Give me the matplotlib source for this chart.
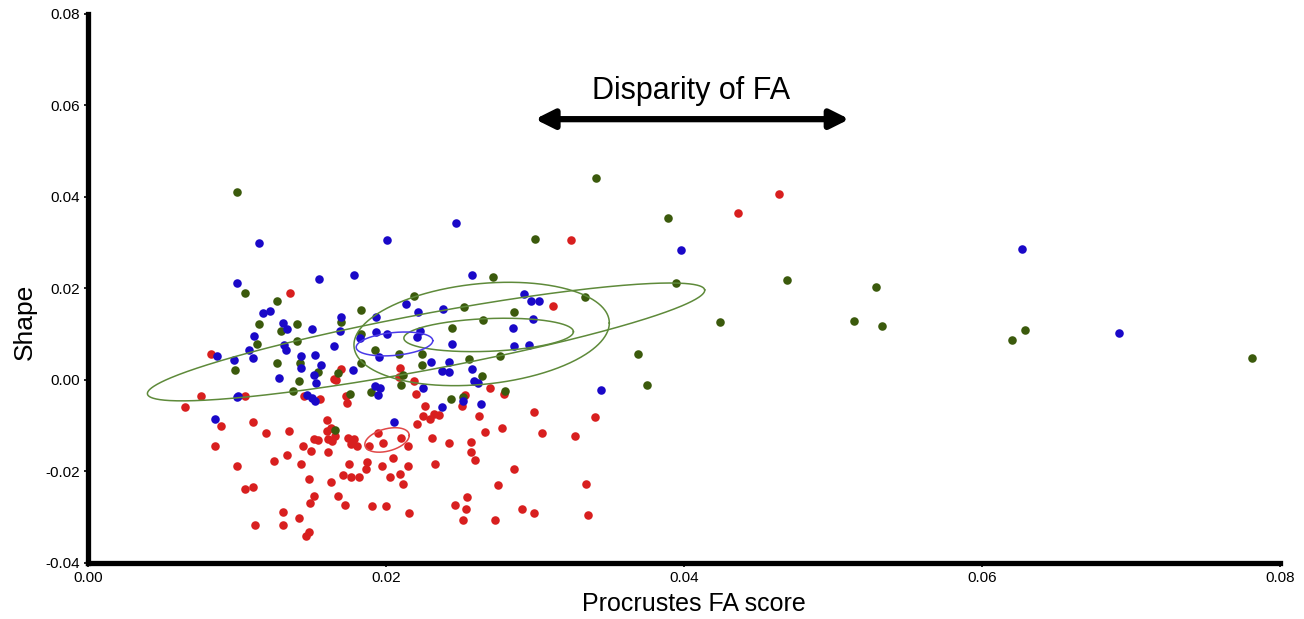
import numpy as np
import matplotlib
matplotlib.use("Agg")
import matplotlib.pyplot as plt

# ---------------- data ----------------
blue_x = [0.01002, 0.01172, 0.01219, 0.01306, 0.01336, 0.01111, 0.01313, 0.01329, 0.01078, 0.00863,
          0.00977, 0.01105, 0.01282, 0.01002, 0.01010, 0.01551, 0.01784, 0.02133, 0.02217, 0.02380,
          0.01701, 0.01931, 0.01501, 0.01694, 0.01936, 0.02008, 0.01824, 0.02225, 0.02210, 0.02442,
          0.01649, 0.01950, 0.01430, 0.01521, 0.01432, 0.01564, 0.02299, 0.02422, 0.02373, 0.02422,
          0.01515, 0.01777, 0.01533, 0.02247, 0.01927, 0.01958, 0.01948, 0.01470, 0.01506, 0.01521,
          0.02378, 0.02580, 0.02926, 0.02971, 0.03027, 0.02985, 0.02852, 0.02862, 0.02958, 0.02580,
          0.02590, 0.02617, 0.02514, 0.02635, 0.0247, 0.0201, 0.0115, 0.0398, 0.0627, 0.0692,
          0.0344, 0.00850, 0.02055]
blue_y = [0.0211, 0.0146, 0.0151, 0.0125, 0.0112, 0.0096, 0.0077, 0.0066, 0.0066, 0.0052,
          0.0044, 0.0047, 0.0005, -0.0038, -0.0035, 0.0221, 0.0230, 0.0165, 0.0148, 0.0155,
          0.0138, 0.0137, 0.0111, 0.0106, 0.0104, 0.0101, 0.0092, 0.0108, 0.0094, 0.0079,
          0.0075, 0.0050, 0.0052, 0.0055, 0.0026, 0.0032, 0.0039, 0.0039, 0.0020, 0.0018,
          0.0010, 0.0021, -0.0007, -0.0018, -0.0014, -0.0018, -0.0032, -0.0033, -0.0039, -0.0045,
          -0.0060, 0.0230, 0.0187, 0.0173, 0.0173, 0.0134, 0.0113, 0.0074, 0.0077, 0.0023,
          -0.0002, -0.0007, -0.0047, -0.0053, 0.0343, 0.0305, 0.0299, 0.0285, 0.0286, 0.0102,
          -0.0021, -0.0086, -0.0092]

green_x = [0.0100, 0.01055, 0.01271, 0.01145, 0.01296, 0.01403, 0.01134, 0.01403, 0.00984, 0.01269,
           0.01378, 0.02187, 0.01833, 0.01696, 0.01829, 0.02442, 0.01929, 0.02086, 0.02243, 0.01425,
           0.01835, 0.02243, 0.01542, 0.01676, 0.02113, 0.02099, 0.01418, 0.01761, 0.01901, 0.02438,
           0.02523, 0.02862, 0.03334, 0.0395, 0.0424, 0.02649, 0.02768, 0.0369, 0.02555, 0.02647,
           0.02799, 0.0375, 0.0341, 0.0300, 0.0272, 0.0389, 0.0469, 0.0529, 0.0514, 0.0533,
           0.0629, 0.0620, 0.0781, 0.01658, 0.02514]
green_y = [0.0410, 0.0190, 0.0173, 0.0123, 0.0107, 0.0122, 0.0079, 0.0085, 0.0022, 0.0036,
           -0.0025, 0.0184, 0.0154, 0.0127, 0.0101, 0.0114, 0.0065, 0.0056, 0.0056, 0.0037,
           0.0036, 0.0033, 0.0017, 0.0015, 0.0011, -0.0011, -0.0002, -0.0031, -0.0027, -0.0042,
           0.0160, 0.0148, 0.0182, 0.0213, 0.0127, 0.0130, 0.0052, 0.0057, 0.0046, 0.0008,
           -0.0024, -0.0010, 0.0442, 0.0308, 0.0225, 0.0353, 0.0219, 0.0203, 0.0128, 0.0117,
           0.0109, 0.0088, 0.0048, -0.0110, -0.0037]

red_x = [0.01353, 0.00825, 0.00758, 0.01055, 0.00654, 0.01701, 0.01649, 0.01667, 0.02093, 0.02086,
         0.02190, 0.01730, 0.02200, 0.01452, 0.01560, 0.01739, 0.02261, 0.0312, 0.02700, 0.02792,
         0.02530, 0.02508, 0.0324, 0.0436, 0.0464,
         0.00894, 0.00854, 0.01105, 0.01197, 0.01351, 0.01602, 0.01602, 0.01629, 0.01661, 0.01611,
         0.01638, 0.01517, 0.01544, 0.01441, 0.01499, 0.01611, 0.01335, 0.01246, 0.01430, 0.01000,
         0.01743, 0.01786, 0.01766, 0.01804, 0.01887, 0.01948, 0.01978, 0.02104, 0.02149, 0.02048,
         0.02207, 0.02247, 0.02295, 0.02319, 0.02358, 0.02311, 0.02422, 0.02326, 0.01873, 0.01750,
         0.01867, 0.01970, 0.02147, 0.01712, 0.01763, 0.01822, 0.02024, 0.02091, 0.02111, 0.01483,
         0.01629, 0.01051, 0.01109, 0.01515, 0.01681, 0.01488, 0.01726, 0.01909, 0.02003, 0.02156,
         0.01309, 0.01416, 0.01118, 0.01311, 0.01481, 0.01461,
         0.02624, 0.02994, 0.03400, 0.02664, 0.02781, 0.03047, 0.03272, 0.02570, 0.02570, 0.02595,
         0.02857, 0.02754, 0.03341, 0.02541, 0.02463, 0.02534, 0.02514, 0.02729, 0.02911, 0.02994,
         0.03357]
red_y = [0.0189, 0.0056, -0.0035, -0.0036, -0.0058, 0.0024, 0.0002, 0.0000, 0.0026, 0.0007,
         -0.0002, -0.0034, -0.0031, -0.0034, -0.0041, -0.0050, -0.0057, 0.0162, -0.0017, -0.0030,
         -0.0033, -0.0057, 0.0306, 0.0364, 0.0407,
         -0.0101, -0.0144, -0.0092, -0.0115, -0.0111, -0.0088, -0.0111, -0.0104, -0.0123, -0.0129,
         -0.0133, -0.0129, -0.0132, -0.0144, -0.0155, -0.0157, -0.0164, -0.0177, -0.0183, -0.0187,
         -0.0127, -0.0130, -0.0139, -0.0144, -0.0144, -0.0116, -0.0137, -0.0127, -0.0145, -0.0170,
         -0.0097, -0.0079, -0.0086, -0.0075, -0.0077, -0.0127, -0.0138, -0.0184, -0.0179, -0.0184,
         -0.0195, -0.0189, -0.0189, -0.0208, -0.0211, -0.0212, -0.0212, -0.0205, -0.0227, -0.0216,
         -0.0224, -0.0238, -0.0235, -0.0254, -0.0254, -0.0270, -0.0273, -0.0276, -0.0275, -0.0291,
         -0.0289, -0.0301, -0.0318, -0.0318, -0.0332, -0.0342,
         -0.0079, -0.0070, -0.0082, -0.0114, -0.0106, -0.0115, -0.0122, -0.0136, -0.0157, -0.0175,
         -0.0194, -0.0230, -0.0227, -0.0255, -0.0274, -0.0281, -0.0305, -0.0305, -0.0283, -0.0290,
         -0.0296]

# ellipses: centre, first conjugate semi-axis, second conjugate semi-axis (data units)
ell_names = ["green_long", "green_wide", "green_small", "blue_mean", "red_mean"]
ell_cx = [0.02269, 0.02642, 0.02689, 0.02057, 0.02007]
ell_cy = [0.00831, 0.01005, 0.00984, 0.00787, -0.01311]
ell_ux = [0.01870, 0.00857, 0.00569, 0.00257, 0.00149]
ell_uy = [0.01139, 0.00240, 0.00070, 0.00072, 0.00098]
ell_vx = [0.000346, 0.0, 0.0, 0.0, 0.0]
ell_vy = [-0.00601, 0.01104, 0.00358, 0.00251, 0.00249]
ell_colors = ["#5e8a3a", "#5e8a3a", "#5e8a3a", "#4a3ae8", "#e04848"]

x_ticks = [0.00, 0.02, 0.04, 0.06, 0.08]
x_tick_labels = ["0.00", "0.02", "0.04", "0.06", "0.08"]
y_ticks = [-0.04, -0.02, 0.00, 0.02, 0.04, 0.06, 0.08]
y_tick_labels = ["-0.04", "-0.02", "0.00", "0.02", "0.04", "0.06", "0.08"]

arrow_x = [0.0300, 0.0511]
arrow_y = 0.0570
note_text = "Disparity of FA"
note_xy = (0.0405, 0.0632)

# ---------------- plot ----------------
fig = plt.figure(figsize=(13.04, 6.19), dpi=100)
ax = fig.add_axes([0.0675, 0.0905, 0.914, 0.887])

RED = "#d81f1f"
BLUE = "#1a08c8"
GREEN = "#3b5a0c"
ms = 38
ax.scatter(red_x, red_y, s=ms, c=RED, linewidths=0, zorder=3)
ax.scatter(green_x, green_y, s=ms, c=GREEN, linewidths=0, zorder=3)
ax.scatter(blue_x, blue_y, s=ms, c=BLUE, linewidths=0, zorder=3)

t = np.linspace(0, 2 * np.pi, 500)
for cx, cy, ux, uy, vx, vy, col in zip(ell_cx, ell_cy, ell_ux, ell_uy, ell_vx, ell_vy, ell_colors):
    ex = cx + ux * np.cos(t) + vx * np.sin(t)
    ey = cy + uy * np.cos(t) + vy * np.sin(t)
    ax.plot(ex, ey, color=col, lw=1.1, zorder=4)

ax.annotate("", xy=(arrow_x[1], arrow_y), xytext=(arrow_x[0], arrow_y),
            arrowprops=dict(arrowstyle="<|-|>", lw=4.5, color="black",
                            mutation_scale=28, shrinkA=0, shrinkB=0))
ax.text(note_xy[0], note_xy[1], note_text, ha="center", va="center",
        fontsize=22, family="Liberation Sans")

ax.set_xlim(0, 0.08)
ax.set_ylim(-0.04, 0.08)
ax.set_xticks(x_ticks)
ax.set_xticklabels(x_tick_labels, family="Liberation Sans", fontsize=11)
ax.set_yticks(y_ticks)
ax.set_yticklabels(y_tick_labels, family="Liberation Sans", fontsize=11)
ax.tick_params(axis="both", length=3, width=1.2, color="black", pad=3)

for side in ["top", "right"]:
    ax.spines[side].set_visible(False)
for side in ["left", "bottom"]:
    ax.spines[side].set_linewidth(3.8)
    ax.spines[side].set_color("black")

ax.set_xlabel("Procrustes FA score", fontsize=18, family="Liberation Sans")
ax.xaxis.set_label_coords(0.508, -0.053)
ax.set_ylabel("Shape", fontsize=19, family="Liberation Sans")
ax.yaxis.set_label_coords(-0.043, 0.44)

fig.savefig("out.png", dpi=100, facecolor="white")
